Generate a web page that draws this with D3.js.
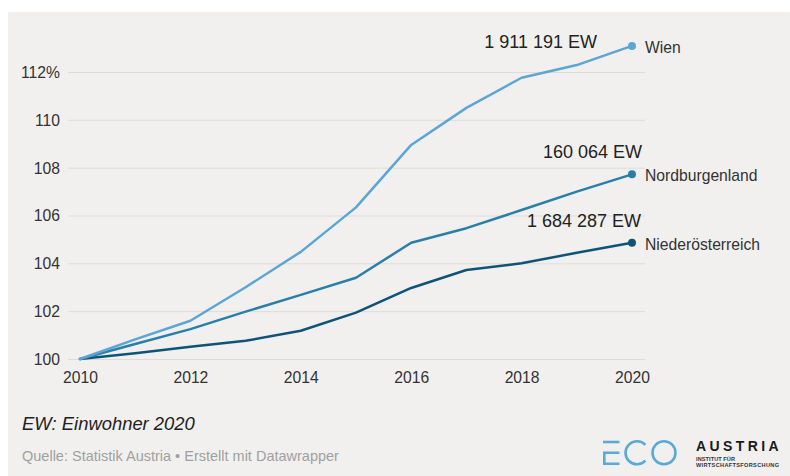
<!DOCTYPE html>
<html>
<head>
<meta charset="utf-8">
<script src="https://cdn.jsdelivr.net/npm/d3@7"></script>
<style>
  html, body { margin: 0; padding: 0; background: #ffffff; }
  svg { display: block; font-family: "Liberation Sans", Arial, Helvetica, sans-serif; }
</style>
</head>
<body>
<svg id="chart" width="790" height="476"></svg>
<script>
// Bevölkerungsentwicklung, Index 2010 = 100
const years = [2010, 2011, 2012, 2013, 2014, 2015, 2016, 2017, 2018, 2019, 2020];
const wien = [100, 100.82, 101.6, 103.0, 104.48, 106.34, 108.95, 110.5, 111.76, 112.29, 113.09];
const nordburgenland = [100, 100.63, 101.25, 101.98, 102.68, 103.4, 104.86, 105.47, 106.23, 107.0, 107.72];
const niederoesterreich = [100, 100.24, 100.51, 100.76, 101.18, 101.94, 102.97, 103.72, 104.0, 104.44, 104.86];

const seriesNames = ["Wien", "Nordburgenland", "Niederösterreich"];
const seriesColors = ["#5ba6d3", "#2a7fa9", "#0d5478"];
const popLabels = ["1 911 191 EW", "160 064 EW", "1 684 287 EW"];

const yTicks = [100, 102, 104, 106, 108, 110, 112];
const xTicks = [2010, 2012, 2014, 2016, 2018, 2020];

const noteText = "EW: Einwohner 2020";
const sourceText = "Quelle: Statistik Austria \u2022 Erstellt mit Datawrapper";

const svg = d3.select("#chart");

// panel background
svg.append("rect")
  .attr("x", 8).attr("y", 12)
  .attr("width", 782).attr("height", 464)
  .attr("fill", "#f1f0ef");

const x = d3.scaleLinear().domain([2010, 2020]).range([80, 632]);
const y = d3.scaleLinear().domain([100, 112]).range([359, 72]);

// grid lines + y labels
const yAxis = d3.axisLeft(y)
  .tickValues(yTicks)
  .tickSize(-(645 - 68))
  .tickPadding(8)
  .tickFormat(d => d === 112 ? "112%" : String(d));

const yg = svg.append("g")
  .attr("transform", "translate(68,0)")
  .call(yAxis);
yg.select(".domain").remove();
yg.selectAll(".tick line").attr("stroke", "#dddcdb").attr("stroke-width", 1);
yg.selectAll(".tick text")
  .attr("fill", "#333")
  .attr("font-size", "15.7px")
  .attr("x", -8)
  .attr("dy", "0.34em");

// x axis labels
const xAxis = d3.axisBottom(x)
  .tickValues(xTicks)
  .tickSize(0)
  .tickPadding(0)
  .tickFormat(d3.format("d"));
const xg = svg.append("g")
  .attr("transform", "translate(0,371)")
  .call(xAxis);
xg.select(".domain").remove();
xg.selectAll(".tick text")
  .attr("fill", "#333")
  .attr("font-size", "15.7px")
  .attr("dy", "0.77em");

// lines
const seriesValues = [wien, nordburgenland, niederoesterreich];
const line = d3.line()
  .x((d, i) => x(years[i]))
  .y(d => y(d));

// draw darker series last so lighter ones sit underneath
[2, 1, 0].forEach(k => {
  svg.append("path")
    .datum(seriesValues[k])
    .attr("fill", "none")
    .attr("stroke", seriesColors[k])
    .attr("stroke-width", 2.5)
    .attr("stroke-linejoin", "round")
    .attr("stroke-linecap", "round")
    .attr("d", line);
});

// end dots, names, population labels
const popOffsets = [[-35, 2], [10, -16], [9, -16]];
seriesValues.forEach((vals, k) => {
  const last = vals[vals.length - 1];
  const cx = x(years[years.length - 1]);
  const cy = y(last);
  svg.append("circle")
    .attr("cx", cx).attr("cy", cy).attr("r", 4)
    .attr("fill", seriesColors[k]);
  svg.append("text")
    .attr("x", cx + 13).attr("y", cy + 7)
    .attr("font-size", "15.7px")
    .attr("fill", "#333")
    .text(seriesNames[k]);
  svg.append("text")
    .attr("x", cx + popOffsets[k][0]).attr("y", cy + popOffsets[k][1])
    .attr("text-anchor", "end")
    .attr("font-size", "18px")
    .attr("fill", "#222")
    .text(popLabels[k]);
});

// footnote and source
svg.append("text")
  .attr("x", 22).attr("y", 430)
  .attr("font-size", "18.4px")
  .attr("font-style", "italic")
  .attr("fill", "#222")
  .text(noteText);

svg.append("text")
  .attr("x", 22).attr("y", 461)
  .attr("font-size", "14.5px")
  .attr("fill", "#a0a0a0")
  .text(sourceText);

// ECO Austria logo
const logo = svg.append("g");
const logoBlue = "#5aaad6";
const sw = 2.6;
// E: top bar, then a bracket shape below
logo.append("line")
  .attr("x1", 603).attr("x2", 619.5).attr("y1", 442).attr("y2", 442)
  .attr("stroke", logoBlue).attr("stroke-width", sw);
logo.append("path")
  .attr("d", "M619.5,452.8 H604.3 V463.7 H619.5")
  .attr("fill", "none").attr("stroke", logoBlue).attr("stroke-width", sw);
// C: ring open towards the right
const cArc = d3.arc()
  .innerRadius(10.2).outerRadius(12.8)
  .startAngle(Math.PI * 0.74).endAngle(Math.PI * 2.26);
logo.append("path")
  .attr("transform", "translate(637,452.8)")
  .attr("d", cArc())
  .attr("fill", logoBlue);
// O
logo.append("circle")
  .attr("cx", 664).attr("cy", 452.8).attr("r", 11.5)
  .attr("fill", "none").attr("stroke", logoBlue).attr("stroke-width", sw);

logo.append("text")
  .attr("x", 696).attr("y", 451)
  .attr("font-size", "14px")
  .attr("font-weight", "bold")
  .attr("letter-spacing", "3.4px")
  .attr("fill", "#1a1a1a")
  .text("AUSTRIA");
logo.append("text")
  .attr("x", 696).attr("y", 460.5)
  .attr("font-size", "5.6px")
  .attr("font-weight", "bold")
  .attr("fill", "#333")
  .attr("textLength", 39)
  .text("INSTITUT FÜR");
logo.append("text")
  .attr("x", 696).attr("y", 467.3)
  .attr("font-size", "5.6px")
  .attr("font-weight", "bold")
  .attr("fill", "#333")
  .attr("textLength", 83)
  .text("WIRTSCHAFTSFORSCHUNG");
</script>
</body>
</html>
